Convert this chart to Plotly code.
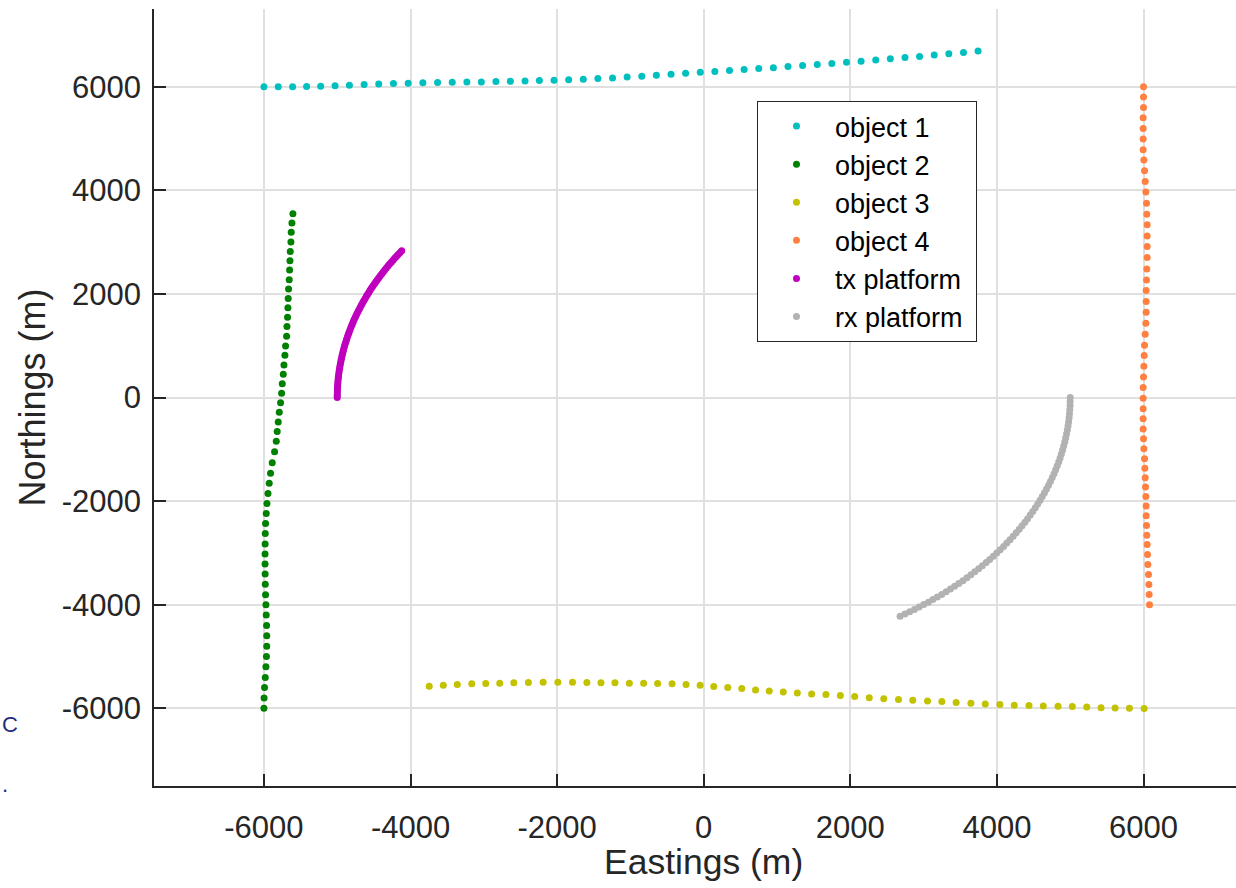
import plotly.graph_objects as go

# ---------------- data ----------------
obj1_x = [-6000, -5805, -5609, -5418, -5226, -5030, -4834, -4633, -4434, -4233,
          -4032, -3832, -3631, -3431, -3231, -3034, -2835, -2638, -2438, -2242,
          -2042, -1843, -1643, -1444, -1244, -1045, -845, -646, -446, -247,
          -47, 152, 352, 551, 751, 950, 1150, 1349, 1549, 1748,
          1948, 2147, 2347, 2546, 2746, 2945, 3145, 3344, 3544, 3743]
obj1_y = [6000, 5998, 5999, 6003, 6010, 6019, 6030, 6041, 6051, 6060,
          6068, 6075, 6080, 6085, 6089, 6093, 6098, 6103, 6110, 6118,
          6125, 6135, 6145, 6158, 6170, 6185, 6200, 6220, 6238, 6258,
          6277, 6295, 6312, 6330, 6350, 6368, 6388, 6408, 6428, 6450,
          6470, 6492, 6515, 6538, 6562, 6585, 6610, 6635, 6662, 6690]

obj2_x = [-5605, -5618, -5628, -5632, -5641, -5645, -5650, -5655, -5664, -5669,
          -5673, -5678, -5686, -5691, -5705, -5714, -5727, -5736, -5750, -5759,
          -5773, -5791, -5805, -5819, -5832, -5855, -5887, -5910, -5928, -5945,
          -5959, -5969, -5978, -5982, -5984, -5985, -5985, -5984, -5982, -5978,
          -5973, -5969, -5964, -5962, -5962, -5966, -5973, -5982, -5992, -5998, -6000]
obj2_y = [3549, 3369, 3188, 3002, 2820, 2640, 2460, 2273, 2093, 1911,
          1731, 1551, 1369, 1184, 996, 816, 629, 449, 267, 81,
          -101, -286, -474, -654, -847, -1048, -1261, -1460, -1654, -1853,
          -2046, -2240, -2433, -2627, -2828, -3021, -3215, -3408, -3607, -3807,
          -4000, -4201, -4400, -4600, -4801, -5000, -5199, -5406, -5600, -5799, -6000]

obj3_x = [-3745, -3553, -3362, -3165, -2974, -2783, -2591, -2392, -2191, -1990,
          -1790, -1594, -1402, -1211, -1015, -820, -629, -432, -241, -49,
          137, 328, 519, 707, 894, 1085, 1277, 1472, 1667, 1864,
          2060, 2258, 2456, 2657, 2852, 3053, 3249, 3444, 3645, 3841,
          4041, 4237, 4438, 4633, 4834, 5029, 5226, 5421, 5613, 5808, 6009]
obj3_y = [-5575, -5555, -5542, -5528, -5522, -5516, -5509, -5503, -5497, -5497,
          -5497, -5503, -5509, -5509, -5516, -5516, -5522, -5528, -5542, -5555,
          -5580, -5600, -5619, -5645, -5664, -5683, -5703, -5722, -5735, -5754,
          -5774, -5796, -5818, -5832, -5845, -5857, -5870, -5890, -5903, -5915,
          -5928, -5942, -5948, -5954, -5961, -5967, -5973, -5987, -5993, -6000, -6006]

obj4_x = [6000, 6000, 6000, 5995, 5995, 5995, 5995, 6005, 6014, 6023,
          6032, 6041, 6045, 6050, 6050, 6050, 6050, 6045, 6041, 6036,
          6036, 6036, 6032, 6023, 6014, 6009, 6005, 6000, 5995, 5995,
          5995, 5995, 5995, 6000, 6005, 6014, 6018, 6023, 6027, 6032,
          6036, 6036, 6041, 6045, 6050, 6055, 6059, 6068, 6073, 6077, 6082]
obj4_y = [6000, 5800, 5600, 5400, 5195, 4989, 4782, 4583, 4377, 4171,
          3965, 3752, 3540, 3333, 3120, 2914, 2701, 2483, 2270, 2064,
          1851, 1646, 1433, 1221, 1009, 810, 603, 397, 191, -15,
          -215, -408, -608, -794, -987, -1181, -1368, -1548, -1730, -1909,
          -2097, -2282, -2470, -2657, -2837, -3030, -3223, -3416, -3610, -3803, -4000]

tx_x = [-5000, -5000, -4999, -4998, -4997, -4995, -4993, -4991, -4988, -4985,
        -4981, -4977, -4973, -4968, -4963, -4957, -4951, -4945, -4938, -4931,
        -4924, -4916, -4908, -4900, -4891, -4881, -4872, -4862, -4851, -4841,
        -4830, -4818, -4806, -4794, -4782, -4769, -4755, -4742, -4728, -4713,
        -4698, -4683, -4668, -4652, -4636, -4619, -4603, -4585, -4568, -4550,
        -4532, -4513, -4494, -4475, -4455, -4435, -4415, -4394, -4373, -4352,
        -4330, -4308, -4286, -4263, -4240, -4217, -4193, -4169, -4145, -4121]
tx_y = [0, 44, 87, 131, 174, 218, 262, 305, 349, 392,
        436, 479, 523, 566, 609, 653, 696, 739, 782, 825,
        868, 911, 954, 997, 1040, 1082, 1125, 1167, 1210, 1252,
        1294, 1336, 1378, 1420, 1462, 1504, 1545, 1587, 1628, 1669,
        1710, 1751, 1792, 1833, 1873, 1913, 1954, 1994, 2034, 2073,
        2113, 2153, 2192, 2231, 2270, 2309, 2347, 2386, 2424, 2462,
        2500, 2538, 2575, 2612, 2650, 2687, 2723, 2760, 2796, 2832]

rx_x = [5000, 4999, 4998, 4994, 4990, 4985, 4978, 4970, 4961, 4950,
        4938, 4926, 4911, 4896, 4880, 4862, 4843, 4823, 4801, 4779,
        4755, 4730, 4704, 4677, 4649, 4619, 4589, 4557, 4524, 4490,
        4455, 4419, 4382, 4343, 4304, 4263, 4222, 4179, 4135, 4091,
        4045, 3998, 3951, 3902, 3853, 3802, 3751, 3698, 3645, 3591,
        3536, 3480, 3423, 3365, 3307, 3247, 3187, 3126, 3065, 3002,
        2939, 2875, 2810, 2745, 2679]
rx_y = [0, -79, -157, -236, -314, -392, -471, -549, -627, -705,
        -782, -860, -937, -1014, -1091, -1167, -1243, -1319, -1395, -1470,
        -1545, -1620, -1694, -1767, -1841, -1913, -1986, -2058, -2129, -2200,
        -2270, -2340, -2409, -2477, -2545, -2612, -2679, -2745, -2810, -2875,
        -2939, -3002, -3065, -3126, -3187, -3247, -3307, -3365, -3423, -3480,
        -3536, -3591, -3645, -3698, -3751, -3802, -3853, -3902, -3951, -3998,
        -4045, -4091, -4135, -4179, -4222]

series_names = ["object 1", "object 2", "object 3", "object 4", "tx platform", "rx platform"]
series_colors = ["rgb(0,191,191)", "rgb(0,128,0)", "rgb(194,194,0)",
                 "rgb(255,128,64)", "rgb(191,0,191)", "rgb(178,178,178)"]

x_ticks = [-6000, -4000, -2000, 0, 2000, 4000, 6000]
y_ticks = [-6000, -4000, -2000, 0, 2000, 4000, 6000]

# ---------------- figure ----------------
FONT = "Arial, Liberation Sans, sans-serif"
AX = "#262626"

fig = go.Figure()
for name, col, xs, ys in zip(series_names, series_colors,
                             [obj1_x, obj2_x, obj3_x, obj4_x, tx_x, rx_x],
                             [obj1_y, obj2_y, obj3_y, obj4_y, tx_y, rx_y]):
    fig.add_trace(go.Scatter(x=xs, y=ys, mode="markers", name=name + "\u00a0",
                             marker=dict(color=col, size=7, line=dict(width=0))))

axis_common = dict(
    showgrid=True, gridcolor="rgb(224,224,224)", gridwidth=1.5,
    zeroline=False, showline=True, linecolor=AX, linewidth=1.6,
    ticks="inside", ticklen=12, tickwidth=1.6, tickcolor=AX,
    tickfont=dict(family=FONT, size=31, color=AX),
    title_font=dict(family=FONT, size=36, color=AX),
    mirror=False,
)

fig.update_layout(
    width=1236, height=888,
    margin=dict(l=154, r=0, t=9, b=102),
    paper_bgcolor="white", plot_bgcolor="white",
    xaxis=dict(range=[-7500, 7262], tickvals=x_ticks,
               ticktext=[str(v) for v in x_ticks],
               ticklabelstandoff=13, **axis_common),
    yaxis=dict(range=[-7500, 7500], tickvals=y_ticks,
               ticktext=[str(v) for v in y_ticks],
               title=dict(text="Northings (m)", standoff=5),
               ticklabelstandoff=5, **axis_common),
    legend=dict(x=0.5573, y=0.8816, xanchor="left", yanchor="top",
                bgcolor="white", bordercolor=AX, borderwidth=1,
                font=dict(family=FONT, size=27, color="black"),
                itemwidth=67, tracegroupgap=0),
    showlegend=True,
)

# x-axis title centred on Eastings 0 (the reference axes are symmetric, cropped at the right)
fig.add_annotation(text="Eastings (m)", xref="x", yref="paper",
                   x=0, y=1 - (862 - 9) / 777, xanchor="center", yanchor="middle",
                   showarrow=False, font=dict(family=FONT, size=35.5, color=AX))

# small stray marks in dark blue at the left edge of the reference picture
fig.add_annotation(text="C", xref="paper", yref="paper",
                   x=(0 - 154) / 1082, y=1 - (724 - 9) / 777,
                   xanchor="left", yanchor="middle", showarrow=False,
                   font=dict(family=FONT, size=22, color="rgb(35,45,125)"))
fig.add_annotation(text=".", xref="paper", yref="paper",
                   x=(0 - 154) / 1082, y=1 - (784 - 9) / 777,
                   xanchor="left", yanchor="middle", showarrow=False,
                   font=dict(family=FONT, size=22, color="rgb(35,45,125)"))

fig.write_html("out.html")
